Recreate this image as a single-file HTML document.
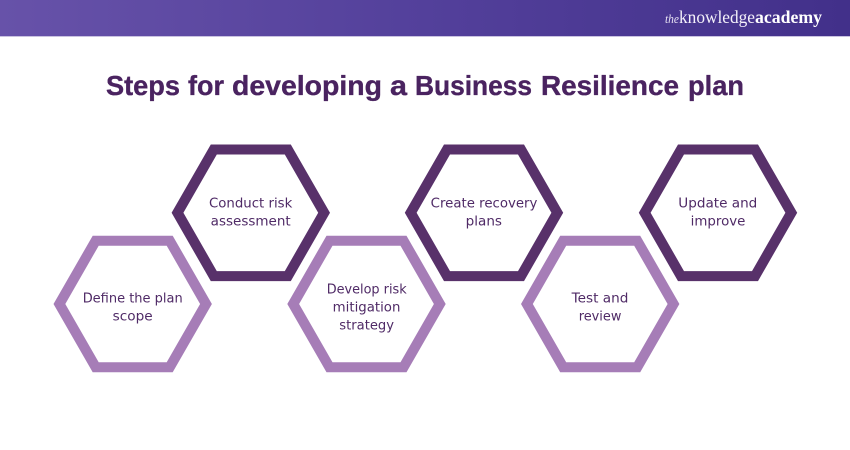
<!DOCTYPE html>
<html lang="en">
<head>
<meta charset="utf-8">
<title>Steps for developing a Business Resilience plan</title>
<style>
html,body{margin:0;padding:0;background:#fff;width:850px;height:450px;overflow:hidden}
svg{display:block}
.t{font-family:"DejaVu Sans",sans-serif;font-size:13px;fill:#4f2a66}
.h{font-family:"Liberation Sans",sans-serif;font-weight:bold;font-size:28px;fill:#4a2360;stroke:#4a2360;stroke-width:.35}
</style>
</head>
<body>
<svg width="850" height="450" viewBox="0 0 850 450" xmlns="http://www.w3.org/2000/svg">
<defs>
<linearGradient id="g" x1="0" x2="1" y1="0" y2="0">
<stop offset="0" stop-color="#6752a9"/>
<stop offset="0.5" stop-color="#53409b"/>
<stop offset="1" stop-color="#42308a"/>
</linearGradient>
<path id="h" fill-rule="evenodd" d="M-79.2 0L-40 -68.3L40 -68.3L79.2 0L40 68.3L-40 68.3Z M-67.4 0L-34 58.3L34 58.3L67.4 0L34 -58.3L-34 -58.3Z"/>
</defs>
<rect width="850" height="36" fill="url(#g)"/>
<rect y="36" width="850" height="1" fill="#c9c2e0"/>

<text x="665" y="23" font-family="'Liberation Serif',serif" font-style="italic" font-size="13" fill="#e6e0f2" textLength="14" lengthAdjust="spacingAndGlyphs">the</text>
<text x="679" y="23" font-family="'Liberation Serif',serif" font-size="18" fill="#f4f1fa" textLength="76" lengthAdjust="spacingAndGlyphs">knowledge</text>
<text x="755" y="23" font-family="'Liberation Serif',serif" font-weight="bold" font-size="18" fill="#fff" textLength="67" lengthAdjust="spacingAndGlyphs">academy</text>

<text class="h" x="106" y="95" textLength="74" lengthAdjust="spacingAndGlyphs">Steps</text>
<text class="h" x="188" y="95" textLength="36" lengthAdjust="spacingAndGlyphs">for</text>
<text class="h" x="232" y="95" textLength="150" lengthAdjust="spacingAndGlyphs">developing</text>
<text class="h" x="390" y="95" textLength="17" lengthAdjust="spacingAndGlyphs">a</text>
<text class="h" x="415" y="95" textLength="117" lengthAdjust="spacingAndGlyphs">Business</text>
<text class="h" x="541" y="95" textLength="138" lengthAdjust="spacingAndGlyphs">Resilience</text>
<text class="h" x="688" y="95" textLength="56" lengthAdjust="spacingAndGlyphs">plan</text>

<use href="#h" x="132.7" y="304" fill="#a67db7"/>
<use href="#h" x="250.8" y="212.8" fill="#58316a"/>
<use href="#h" x="366.5" y="304" fill="#a67db7"/>
<use href="#h" x="484" y="212.8" fill="#58316a"/>
<use href="#h" x="600.2" y="304" fill="#a67db7"/>
<use href="#h" x="718" y="212.8" fill="#58316a"/>

<text class="t" x="82.7" y="302.7" textLength="100" lengthAdjust="spacingAndGlyphs">Define the plan</text>
<text class="t" x="112.7" y="320.7" textLength="40" lengthAdjust="spacingAndGlyphs">scope</text>

<text class="t" x="209" y="207.3" textLength="83.3" lengthAdjust="spacingAndGlyphs">Conduct risk</text>
<text class="t" x="210.7" y="225.3" textLength="80" lengthAdjust="spacingAndGlyphs">assessment</text>

<text class="t" x="326.7" y="293.7" textLength="80" lengthAdjust="spacingAndGlyphs">Develop risk</text>
<text class="t" x="332.7" y="311.7" textLength="67.7" lengthAdjust="spacingAndGlyphs">mitigation</text>
<text class="t" x="339.3" y="329.7" textLength="54.7" lengthAdjust="spacingAndGlyphs">strategy</text>

<text class="t" x="430.7" y="207.3" textLength="106.7" lengthAdjust="spacingAndGlyphs">Create recovery</text>
<text class="t" x="465.7" y="225.3" textLength="36.3" lengthAdjust="spacingAndGlyphs">plans</text>

<text class="t" x="571.7" y="302.7" textLength="56.7" lengthAdjust="spacingAndGlyphs">Test and</text>
<text class="t" x="578.7" y="320.7" textLength="42.7" lengthAdjust="spacingAndGlyphs">review</text>

<text class="t" x="678.3" y="207.3" textLength="79" lengthAdjust="spacingAndGlyphs">Update and</text>
<text class="t" x="690.7" y="225.3" textLength="54.7" lengthAdjust="spacingAndGlyphs">improve</text>
</svg>
</body>
</html>
